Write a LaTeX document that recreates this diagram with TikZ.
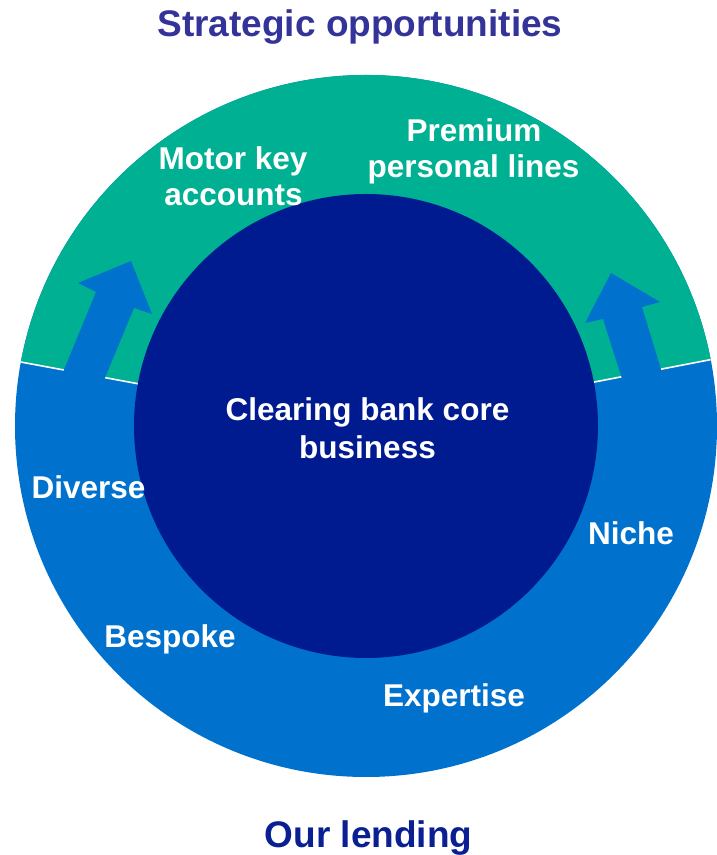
\documentclass[tikz,border=0pt]{standalone}
\usepackage{fontspec}
\setmainfont{Liberation Sans}
\definecolor{ringgreen}{HTML}{00B092}
\definecolor{ringblue}{HTML}{0072CE}
\definecolor{corenavy}{HTML}{001A8F}
\definecolor{titlepurple}{HTML}{333399}
\definecolor{titlenavy}{HTML}{0A1F92}
\tikzset{
  label/.style={text=white, font=\bfseries\fontsize{31.5}{37}\selectfont, anchor=base, inner sep=0pt},
  title/.style={font=\bfseries\fontsize{37}{44}\selectfont, anchor=base, inner sep=0pt},
  riseArrow/.style={fill=ringblue},
  divider/.style={draw=white, line width=1.6pt}
}
\begin{document}
\begin{tikzpicture}[x=1pt, y=1pt]
  \useasboundingbox (0,0) rectangle (717,855);
  \coordinate (c) at (366,429);
  % lending ring
  \fill[ringblue] (c) circle[radius=351];
  % strategic opportunities sector
  \fill[ringgreen] (c) -- ++(10.9:351) arc[start angle=10.9, end angle=169.5, radius=351] -- cycle;
  \draw[divider] (c) -- ++(10.9:351);
  \draw[divider] (c) -- ++(169.5:351);
  % arrows rising from lending into opportunities
  \fill[riseArrow] (61,478) -- (96,563) -- (78,572) -- (131,594) -- (152,541) -- (134,547) -- (102,470) -- cycle;
  \fill[riseArrow] (624,470) -- (603,536) -- (585,532) -- (611,582) -- (660,553) -- (642,548) -- (663,479) -- cycle;
  % core
  \fill[corenavy] (c) circle[radius=232];
  % labels
  \node[title, text=titlepurple] (tstrat) at (360,818) {Strategic opportunities};
  \node[title, text=titlenavy] (tlend) at (368.5,8) {Our lending};
  \node[label] (core1) at (367.5,434.5) {Clearing bank core};
  \node[label] (core2) at (367.5,396.5) {business};
  \node[label] (motor1) at (233,685.5) {Motor key};
  \node[label] (motor2) at (233.5,649.5) {accounts};
  \node[label] (prem1) at (474,713.5) {Premium};
  \node[label] (prem2) at (473.5,677.5) {personal lines};
  \node[label] (diverse) at (88.5,356.5) {Diverse};
  \node[label] (niche) at (631,310.5) {Niche};
  \node[label] (bespoke) at (170,207.5) {Bespoke};
  \node[label] (expertise) at (454,148.5) {Expertise};
\end{tikzpicture}
\end{document}
